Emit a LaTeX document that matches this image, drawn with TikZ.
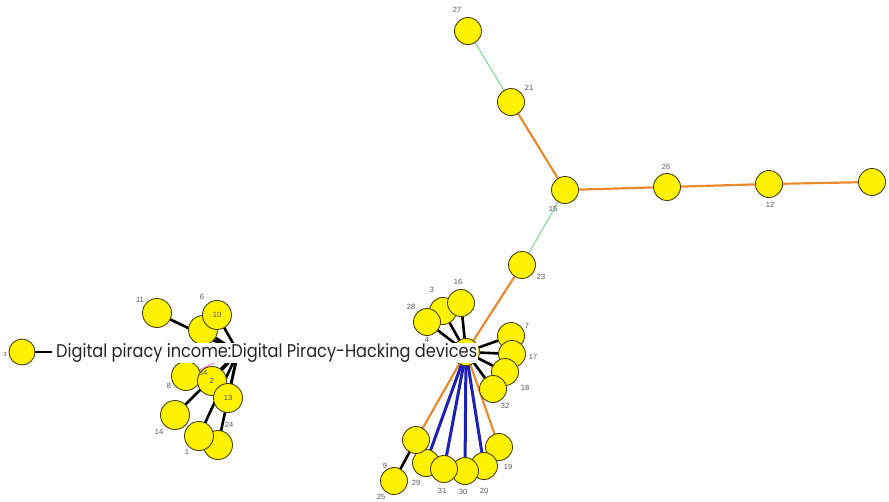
\documentclass[tikz,border=0pt]{standalone}
\usepackage{fontspec}
\setmainfont{Liberation Sans}
\newfontfamily\bigfont{Poppins}
\definecolor{nodeyellow}{HTML}{FFF200}
\definecolor{nodeedge}{HTML}{4A4410}
\definecolor{edgeorange}{HTML}{E88A30}
\definecolor{edgegreen}{HTML}{8CD8A0}
\definecolor{edgeblue}{HTML}{1E22B4}
\definecolor{labgray}{HTML}{555555}
\tikzset{
  vtx/.style={circle,draw=nodeedge,line width=0.9pt,fill=nodeyellow,minimum size=27pt,inner sep=0pt,font=\fontsize{7.5}{8}\selectfont,text=labgray},
  vbig/.style={vtx,minimum size=29pt},
  lab/.style={font=\fontsize{7.5}{8}\selectfont,text=labgray,inner sep=0pt},
  eblack/.style={draw=black,line width=2.6pt},
  eorange/.style={draw=edgeorange,line width=2.2pt},
  egreen/.style={draw=edgegreen,line width=1.2pt},
  eblue/.style={draw=edgeblue,line width=3pt},
}
\begin{document}
\begin{tikzpicture}[x=1pt,y=-1pt]
\useasboundingbox (0,0) rectangle (889,501);
\coordinate (hub) at (466,352);
\coordinate (hubL) at (238,352);
\coordinate (p27) at (468,31);
\coordinate (p21) at (511,102);
\coordinate (p15) at (565,190);
\coordinate (p26) at (667,187);
\coordinate (p12) at (769,184);
\coordinate (pR) at (872,182);
\coordinate (p23) at (522,265);
\coordinate (p16) at (461,303);
\coordinate (p3) at (443,311);
\coordinate (p28) at (427,322);
\coordinate (p7) at (511,336);
\coordinate (p17) at (512,354);
\coordinate (p18) at (505,372);
\coordinate (p32) at (493,389);
\coordinate (p19) at (499,447);
\coordinate (p20) at (484,466);
\coordinate (p30) at (465,471);
\coordinate (p31) at (444,469);
\coordinate (p29) at (426,463);
\coordinate (p9) at (416,440);
\coordinate (p25) at (394,481);
\coordinate (p11) at (157,313);
\coordinate (p6) at (203,330);
\coordinate (p10) at (217,315);
\coordinate (p8) at (186,376);
\coordinate (p2) at (212,381);
\coordinate (p13) at (228,398);
\coordinate (p14) at (175,415);
\coordinate (p1) at (199,436);
\coordinate (p24) at (218,445);
\coordinate (pL3) at (22,352);
% ---- edges
\draw[egreen] (p27) -- (p21);
\draw[eorange] (p21) -- (p15);
\draw[eorange] (p15) -- (p26) -- (p12) -- (pR);
\draw[egreen] (p15) -- (p23);
\draw[eorange] (p23) -- (hub);
\draw[eorange] (hub) -- (p9);
\draw[eorange] (hub) -- (p19);
\foreach \t in {p16,p3,p28,p7,p17,p18,p32} \draw[eblack] (hub) -- (\t);
\foreach \t in {p29,p31,p30,p20} \draw[eblue] (hub) -- (\t);
\draw[eblack] (p9) -- (p25);
\foreach \t in {p11,p6,p10,p2,p13,p14,p1,p24} \draw[eblack] (hubL) -- (\t);
\draw[draw=magenta!60,line width=0.8pt] (hubL) -- (p8);
\draw[eblack] (pL3) -- (52,352);
% ---- node circles
\node[vtx] (n27) at (p27) {};
\node[vtx] (n21) at (p21) {};
\node[vtx] (n15) at (p15) {};
\node[vtx] (n26) at (p26) {};
\node[vtx] (n12) at (p12) {};
\node[vtx] (nR) at (pR) {};
\node[vtx] (n23) at (p23) {};
\node[vtx] (nhub) at (hub) {};
\node[vtx] (n3) at (p3) {};
\node[vtx] (n16) at (p16) {};
\node[vtx] (n28) at (p28) {};
\node[vtx] (n7) at (p7) {};
\node[vtx] (n17) at (p17) {};
\node[vtx] (n18) at (p18) {};
\node[vtx] (n32) at (p32) {};
\node[vtx] (n19) at (p19) {};
\node[vtx] (n29) at (p29) {};
\node[vtx] (n20) at (p20) {};
\node[vtx] (n30) at (p30) {};
\node[vtx] (n31) at (p31) {};
\node[vtx] (n9) at (p9) {};
\node[vtx] (n25) at (p25) {};
\node[vbig] (n11) at (p11) {};
\node[vbig] (n6) at (p6) {};
\node[vbig] (n10) at (p10) {10};
\node[vbig] (n8) at (p8) {};
\node[vbig] (n2) at (p2) {2};
\node[vbig] (n13) at (p13) {13};
\node[vbig] (n14) at (p14) {};
\node[vbig] (n24) at (p24) {};
\node[vbig] (n1) at (p1) {};
\node[vtx,minimum size=26pt] (nL3) at (pL3) {};
% ---- big label with white background
\node[fill=white,inner sep=1pt,anchor=west,text=black!85] (title) at (55,353)
  {\resizebox{421pt}{14pt}{\bigfont Digital piracy income:Digital Piracy-Hacking devices}};
% ---- small labels
\node[lab] (l27) at (457,10) {27};
\node[lab] (l21) at (529,88) {21};
\node[lab] (l15) at (553,209) {15};
\node[lab] (l26) at (666,167) {26};
\node[lab] (l12) at (770,205) {12};
\node[lab] (l23) at (541,277) {23};
\node[lab] (l16) at (458,282) {16};
\node[lab] (l3) at (432,290) {3};
\node[lab] (l28) at (411,307) {28};
\node[lab] (l4) at (427,340) {4};
\node[lab] (l7) at (527,326) {7};
\node[lab] (l17) at (533,357) {17};
\node[lab] (l18) at (525,388) {18};
\node[lab] (l32) at (505,406) {32};
\node[lab] (l19) at (508,467) {19};
\node[lab] (l20) at (484,491) {20};
\node[lab] (l30) at (463,492) {30};
\node[lab] (l31) at (442,491) {31};
\node[lab] (l29) at (416,483) {29};
\node[lab] (l9) at (385,466) {9};
\node[lab] (l25) at (381,497) {25};
\node[lab] (l11) at (140,300) {11};
\node[lab] (l6) at (202,297) {6};
\node[lab] (l34) at (203,373) {34};
\node[lab] (l8) at (169,386) {8};
\node[lab] (l14) at (159,432) {14};
\node[lab] (l1) at (187,452) {1};
\node[lab] (l24) at (229,425) {24};
\node[lab,font=\fontsize{6}{6}\selectfont] (lL3) at (5,354) {3};
\end{tikzpicture}
\end{document}
